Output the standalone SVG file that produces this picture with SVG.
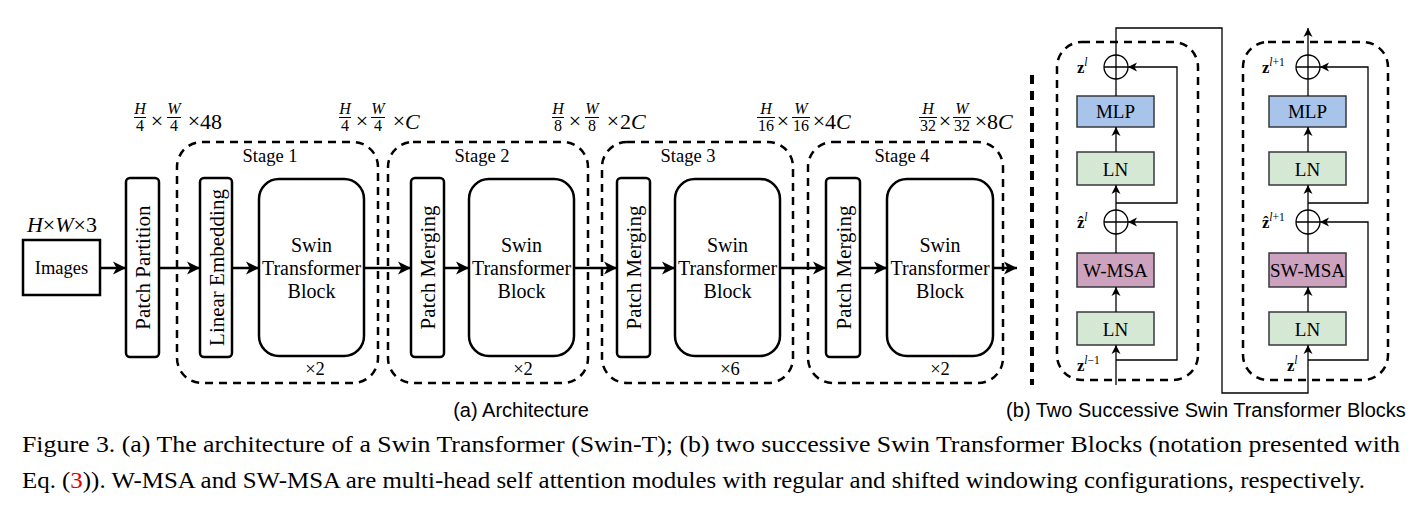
<svg xmlns="http://www.w3.org/2000/svg" width="1420" height="517" viewBox="0 0 1420 517">
<style>
.t{font-family:"Liberation Serif","DejaVu Serif",serif;fill:#000}
.s{font-family:"Liberation Sans",Arial,sans-serif;fill:#000}
.i{font-style:italic}
.b{font-weight:bold}
.box{fill:#fff;stroke:#000;stroke-width:2.5}
.stage{fill:none;stroke:#000;stroke-width:2.5;stroke-dasharray:8 6}
.arr{stroke:#000;stroke-width:2.5;fill:none;marker-end:url(#ah)}
.w{stroke:#000;stroke-width:1.3;fill:none}
.wa{stroke:#000;stroke-width:1.3;fill:none;marker-end:url(#sa)}
.rb{stroke:#36393d;stroke-width:1.5}
.mlp{fill:#a9c4eb}
.ln{fill:#d5e8d4}
.msa{fill:#cda2be}
.bar{stroke:#000;stroke-width:1}
.fr{font-size:16px}
.x{font-size:22px}
.m{font-size:22px}
</style>
<defs>
<marker id="ah" markerUnits="userSpaceOnUse" markerWidth="14" markerHeight="14" refX="13" refY="7" orient="auto"><path d="M0,0.5 L13,7 L0,13.5 L3.5,7 z" fill="#000"/></marker>
<marker id="sa" markerUnits="userSpaceOnUse" markerWidth="10" markerHeight="10" refX="9" refY="5" orient="auto"><path d="M0,0.5 L9,5 L0,9.5 L2.5,5 z" fill="#000"/></marker>
</defs>

<!-- dimension labels -->
<g id="dims" class="t">
<text x="62" y="232" font-size="22" text-anchor="middle"><tspan class="i">H</tspan>×<tspan class="i">W</tspan>×3</text>
<g id="dim1">
<text x="140" y="114" class="fr i" text-anchor="middle">H</text><line class="bar" x1="134" y1="117.5" x2="146" y2="117.5"/><text x="140" y="131" class="fr" text-anchor="middle">4</text>
<text x="157" y="128" class="x" text-anchor="middle">×</text>
<text x="174" y="114" class="fr i" text-anchor="middle">W</text><line class="bar" x1="167" y1="117.5" x2="181" y2="117.5"/><text x="174" y="131" class="fr" text-anchor="middle">4</text>
<text x="194" y="128" class="x" text-anchor="middle">×</text>
<text x="200" y="129" class="m">48</text>
</g>
<g id="dim2">
<text x="345" y="114" class="fr i" text-anchor="middle">H</text><line class="bar" x1="339" y1="117.5" x2="351" y2="117.5"/><text x="345" y="131" class="fr" text-anchor="middle">4</text>
<text x="362" y="128" class="x" text-anchor="middle">×</text>
<text x="378" y="114" class="fr i" text-anchor="middle">W</text><line class="bar" x1="371" y1="117.5" x2="385" y2="117.5"/><text x="378" y="131" class="fr" text-anchor="middle">4</text>
<text x="399" y="128" class="x" text-anchor="middle">×</text>
<text x="405" y="129" class="m i">C</text>
</g>
<g id="dim3">
<text x="558" y="114" class="fr i" text-anchor="middle">H</text><line class="bar" x1="552" y1="117.5" x2="564" y2="117.5"/><text x="558" y="131" class="fr" text-anchor="middle">8</text>
<text x="575" y="128" class="x" text-anchor="middle">×</text>
<text x="592" y="114" class="fr i" text-anchor="middle">W</text><line class="bar" x1="585" y1="117.5" x2="599" y2="117.5"/><text x="592" y="131" class="fr" text-anchor="middle">8</text>
<text x="613" y="128" class="x" text-anchor="middle">×</text>
<text x="620" y="129" class="m">2<tspan class="i">C</tspan></text>
</g>
<g id="dim4">
<text x="766" y="114" class="fr i" text-anchor="middle">H</text><line class="bar" x1="757" y1="117.5" x2="775" y2="117.5"/><text x="766" y="131" class="fr" text-anchor="middle">16</text>
<text x="783" y="128" class="x" text-anchor="middle">×</text>
<text x="801" y="114" class="fr i" text-anchor="middle">W</text><line class="bar" x1="792" y1="117.5" x2="810" y2="117.5"/><text x="801" y="131" class="fr" text-anchor="middle">16</text>
<text x="819" y="128" class="x" text-anchor="middle">×</text>
<text x="825" y="129" class="m">4<tspan class="i">C</tspan></text>
</g>
<g id="dim5">
<text x="928" y="114" class="fr i" text-anchor="middle">H</text><line class="bar" x1="919" y1="117.5" x2="937" y2="117.5"/><text x="928" y="131" class="fr" text-anchor="middle">32</text>
<text x="945" y="128" class="x" text-anchor="middle">×</text>
<text x="962" y="114" class="fr i" text-anchor="middle">W</text><line class="bar" x1="953" y1="117.5" x2="971" y2="117.5"/><text x="962" y="131" class="fr" text-anchor="middle">32</text>
<text x="981" y="128" class="x" text-anchor="middle">×</text>
<text x="987" y="129" class="m">8<tspan class="i">C</tspan></text>
</g>
</g>

<!-- stages -->
<g id="stage1"><rect class="stage" x="177" y="142" width="201" height="241" rx="25"/><text class="t" x="270" y="162" font-size="18.5" text-anchor="middle">Stage 1</text><text class="t" x="315" y="375" font-size="18.5" text-anchor="middle">×2</text></g>
<g id="stage2"><rect class="stage" x="388" y="142" width="200" height="241" rx="25"/><text class="t" x="482" y="162" font-size="18.5" text-anchor="middle">Stage 2</text><text class="t" x="523" y="375" font-size="18.5" text-anchor="middle">×2</text></g>
<g id="stage3"><rect class="stage" x="602" y="142" width="191" height="241" rx="25"/><text class="t" x="688" y="162" font-size="18.5" text-anchor="middle">Stage 3</text><text class="t" x="730" y="375" font-size="18.5" text-anchor="middle">×6</text></g>
<g id="stage4"><rect class="stage" x="808" y="142" width="195" height="241" rx="25"/><text class="t" x="902" y="162" font-size="18.5" text-anchor="middle">Stage 4</text><text class="t" x="940" y="375" font-size="18.5" text-anchor="middle">×2</text></g>

<!-- nodes (a) -->
<g id="images"><rect class="box" x="23" y="240" width="77" height="55"/><text class="t" x="61.5" y="274" font-size="18.5" text-anchor="middle">Images</text></g>
<g id="patch-partition"><rect class="box" x="126" y="178" width="33" height="179" rx="4"/><text class="t" transform="translate(143,267.5) rotate(-90)" font-size="21" text-anchor="middle" dominant-baseline="central">Patch Partition</text></g>
<g id="linear-embedding"><rect class="box" x="200" y="178" width="32" height="179" rx="4"/><text class="t" transform="translate(216.5,267.5) rotate(-90)" font-size="21" text-anchor="middle" dominant-baseline="central">Linear Embedding</text></g>
<g id="swin1"><rect class="box" x="259" y="179" width="105" height="177" rx="20"/><text class="t" font-size="20" text-anchor="middle"><tspan x="311.5" y="252">Swin</tspan><tspan x="311.5" y="275">Transformer</tspan><tspan x="311.5" y="298">Block</tspan></text></g>
<g id="merge2"><rect class="box" x="411" y="178" width="33" height="179" rx="4"/><text class="t" transform="translate(428,267.5) rotate(-90)" font-size="21" text-anchor="middle" dominant-baseline="central">Patch Merging</text></g>
<g id="swin2"><rect class="box" x="469" y="179" width="105" height="177" rx="20"/><text class="t" font-size="20" text-anchor="middle"><tspan x="521.5" y="252">Swin</tspan><tspan x="521.5" y="275">Transformer</tspan><tspan x="521.5" y="298">Block</tspan></text></g>
<g id="merge3"><rect class="box" x="617" y="178" width="33" height="179" rx="4"/><text class="t" transform="translate(634,267.5) rotate(-90)" font-size="21" text-anchor="middle" dominant-baseline="central">Patch Merging</text></g>
<g id="swin3"><rect class="box" x="675" y="179" width="105" height="177" rx="20"/><text class="t" font-size="20" text-anchor="middle"><tspan x="727.5" y="252">Swin</tspan><tspan x="727.5" y="275">Transformer</tspan><tspan x="727.5" y="298">Block</tspan></text></g>
<g id="merge4"><rect class="box" x="826" y="178" width="34" height="179" rx="4"/><text class="t" transform="translate(843.5,267.5) rotate(-90)" font-size="21" text-anchor="middle" dominant-baseline="central">Patch Merging</text></g>
<g id="swin4"><rect class="box" x="887" y="179" width="106" height="177" rx="20"/><text class="t" font-size="20" text-anchor="middle"><tspan x="940" y="252">Swin</tspan><tspan x="940" y="275">Transformer</tspan><tspan x="940" y="298">Block</tspan></text></g>

<!-- separator -->
<line x1="1032" y1="75" x2="1032" y2="385" stroke="#000" stroke-width="4" stroke-dasharray="9 7"/>

<!-- block (b) frames -->
<g id="blockA-frame"><rect class="stage" x="1057" y="42" width="141" height="338" rx="25" stroke-dasharray="7 5"/></g>
<g id="blockB-frame"><rect class="stage" x="1243" y="42" width="145" height="338" rx="25" stroke-dasharray="7 5"/></g>

<!-- nodes (b) -->
<g id="a-mlp"><rect class="rb mlp" x="1077" y="96" width="77" height="31"/><text class="t" x="1115.5" y="118" font-size="19" text-anchor="middle">MLP</text></g>
<g id="a-ln1"><rect class="rb ln" x="1077" y="152" width="77" height="33"/><text class="t" x="1115.5" y="175.5" font-size="19" text-anchor="middle">LN</text></g>
<g id="a-msa"><rect class="rb msa" x="1077" y="253" width="77" height="34"/><text class="t" x="1115.5" y="276.5" font-size="19" text-anchor="middle">W-MSA</text></g>
<g id="a-ln2"><rect class="rb ln" x="1077" y="312" width="77" height="33"/><text class="t" x="1115.5" y="335.5" font-size="19" text-anchor="middle">LN</text></g>
<g id="a-add1"><circle cx="1116" cy="67" r="12" fill="#fff" stroke="#000" stroke-width="1.3"/><path class="w" d="M1104,67H1128M1116,55V79"/></g>
<g id="a-add2"><circle cx="1116" cy="222" r="12" fill="#fff" stroke="#000" stroke-width="1.3"/><path class="w" d="M1104,222H1128M1116,210V234"/></g>

<g id="b-mlp"><rect class="rb mlp" x="1269" y="96" width="77" height="31"/><text class="t" x="1307.5" y="118" font-size="19" text-anchor="middle">MLP</text></g>
<g id="b-ln1"><rect class="rb ln" x="1269" y="152" width="77" height="33"/><text class="t" x="1307.5" y="175.5" font-size="19" text-anchor="middle">LN</text></g>
<g id="b-msa"><rect class="rb msa" x="1269" y="253" width="77" height="34"/><text class="t" x="1307.5" y="276.5" font-size="19" text-anchor="middle">SW-MSA</text></g>
<g id="b-ln2"><rect class="rb ln" x="1269" y="312" width="77" height="33"/><text class="t" x="1307.5" y="335.5" font-size="19" text-anchor="middle">LN</text></g>
<g id="b-add1"><circle cx="1308" cy="67" r="12" fill="#fff" stroke="#000" stroke-width="1.3"/><path class="w" d="M1296,67H1320M1308,55V79"/></g>
<g id="b-add2"><circle cx="1308" cy="222" r="12" fill="#fff" stroke="#000" stroke-width="1.3"/><path class="w" d="M1296,222H1320M1308,210V234"/></g>

<!-- z labels -->
<g id="zlabels" class="t">
<text x="1077" y="73" font-size="16.5" class="b">z<tspan dy="-7" font-size="11.5" font-weight="normal" class="i">l</tspan></text>
<text x="1077" y="228" font-size="16.5" class="b">ẑ<tspan dy="-7" font-size="11.5" font-weight="normal" class="i">l</tspan></text>
<text x="1077" y="371" font-size="16.5" class="b">z<tspan dy="-7" font-size="11.5" font-weight="normal"><tspan class="i">l</tspan>−1</tspan></text>
<text x="1262" y="73" font-size="16.5" class="b">z<tspan dy="-7" font-size="11.5" font-weight="normal"><tspan class="i">l</tspan>+1</tspan></text>
<text x="1262" y="228" font-size="16.5" class="b">ẑ<tspan dy="-7" font-size="11.5" font-weight="normal"><tspan class="i">l</tspan>+1</tspan></text>
<text x="1287" y="371" font-size="16.5" class="b">z<tspan dy="-7" font-size="11.5" font-weight="normal" class="i">l</tspan></text>
</g>

<!-- connectors -->
<g id="connectors">
<line class="arr" x1="100" y1="268" x2="126" y2="268"/>
<line class="arr" x1="159" y1="268" x2="200" y2="268"/>
<line class="arr" x1="232" y1="268" x2="259" y2="268"/>
<line class="arr" x1="364" y1="268" x2="411" y2="268"/>
<line class="arr" x1="444" y1="268" x2="469" y2="268"/>
<line class="arr" x1="574" y1="268" x2="617" y2="268"/>
<line class="arr" x1="650" y1="268" x2="675" y2="268"/>
<line class="arr" x1="780" y1="268" x2="826" y2="268"/>
<line class="arr" x1="860" y1="268" x2="887" y2="268"/>
<line class="arr" x1="993" y1="268" x2="1017" y2="268"/>

<line class="wa" x1="1116" y1="385" x2="1116" y2="345"/>
<line class="wa" x1="1116" y1="312" x2="1116" y2="287"/>
<line class="w" x1="1116" y1="253" x2="1116" y2="234"/>
<line class="wa" x1="1116" y1="210" x2="1116" y2="185"/>
<line class="wa" x1="1116" y1="152" x2="1116" y2="127"/>
<line class="w" x1="1116" y1="96" x2="1116" y2="79"/>
<polyline class="wa" points="1116,360 1177,360 1177,222 1128,222"/>
<polyline class="wa" points="1116,203 1177,203 1177,67 1128,67"/>
<polyline class="wa" points="1116,55 1116,28 1222,28 1222,393 1308,393 1308,345"/>

<line class="wa" x1="1308" y1="312" x2="1308" y2="287"/>
<line class="w" x1="1308" y1="253" x2="1308" y2="234"/>
<line class="wa" x1="1308" y1="210" x2="1308" y2="185"/>
<line class="wa" x1="1308" y1="152" x2="1308" y2="127"/>
<line class="w" x1="1308" y1="96" x2="1308" y2="79"/>
<line class="wa" x1="1308" y1="55" x2="1308" y2="28"/>
<polyline class="wa" points="1308,360 1368,360 1368,222 1320,222"/>
<polyline class="wa" points="1308,203 1368,203 1368,67 1320,67"/>
</g>

<!-- captions -->
<text class="s" x="521" y="417" font-size="20" text-anchor="middle">(a) Architecture</text>
<text class="s" x="1206" y="417" font-size="20" text-anchor="middle">(b) Two Successive Swin Transformer Blocks</text>
<text class="t" x="22" y="452" font-size="23" textLength="1378" lengthAdjust="spacingAndGlyphs">Figure 3. (a) The architecture of a Swin Transformer (Swin-T); (b) two successive Swin Transformer Blocks (notation presented with</text>
<text class="t" x="22" y="488" font-size="23" textLength="1343" lengthAdjust="spacingAndGlyphs">Eq. (<tspan fill="#e00000">3</tspan>)). W-MSA and SW-MSA are multi-head self attention modules with regular and shifted windowing configurations, respectively.</text>
</svg>
